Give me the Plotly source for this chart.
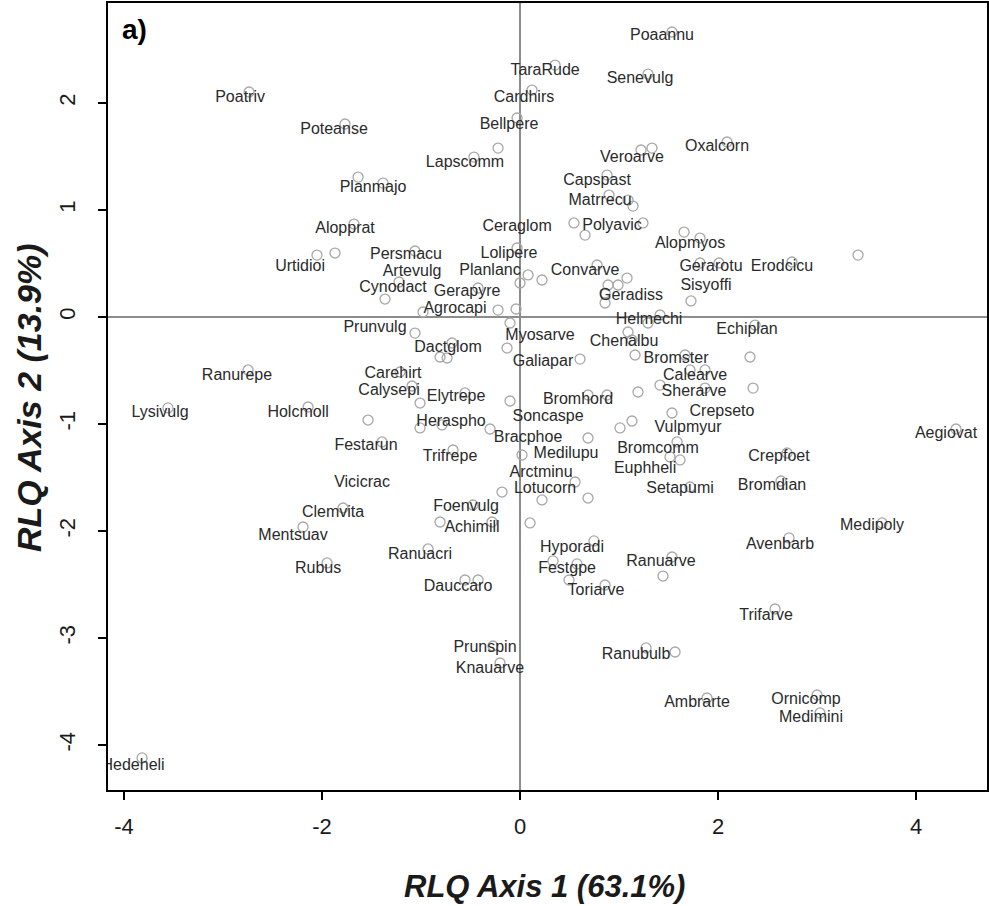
import plotly.graph_objects as go

# Species label positions (RLQ axis 1, RLQ axis 2)
species = ["Poaannu","TaraRude","Senevulg","Poatriv","Cardhirs","Poteanse","Bellpere","Oxalcorn",
           "Veroarve","Lapscomm","Planmajo","Capspast","Matrrecu","Alopprat","Ceraglom","Polyavic",
           "Alopmyos","Persmacu","Urtidioi","Lolipere","Artevulg","Planlanc","Convarve","Gerarotu",
           "Erodcicu","Cynodact","Gerapyre","Sisyoffi","Geradiss","Agrocapi","Prunvulg","Helmechi",
           "Echiplan","Myosarve","Dactglom","Chenalbu","Galiapar","Bromster","Ranurepe","Carehirt",
           "Calysepi","Calearve","Elytrepe","Sherarve","Bromhord","Lysivulg","Holcmoll","Crepseto",
           "Soncaspe","Heraspho","Vulpmyur","Aegiovat","Bracphoe","Medilupu","Bromcomm","Festarun",
           "Trifrepe","Crepfoet","Euphheli","Arctminu","Vicicrac","Lotucorn","Setapumi","Bromdian",
           "Foenvulg","Clemvita","Achimill","Medipoly","Mentsuav","Hyporadi","Avenbarb","Ranuacri",
           "Festgpe","Ranuarve","Rubus","Dauccaro","Toriarve","Trifarve","Prunspin","Ranubulb",
           "Knauarve","Ambrarte","Ornicomp","Medimini","Hedeheli"]
label_x = [1.434,0.253,1.212,-2.828,0.040,-1.879,-0.111,1.990,
           1.131,-0.556,-1.485,0.778,0.808,-1.768,-0.030,0.929,
           1.717,-1.152,-2.222,-0.111,-1.091,-0.303,0.657,1.929,
           2.646,-1.283,-0.535,1.879,1.121,-0.657,-1.465,1.303,
           2.293,0.202,-0.727,1.051,0.232,1.576,-2.859,-1.283,
           -1.323,1.768,-0.646,1.758,0.586,-3.636,-2.242,2.040,
           0.283,-0.697,1.697,4.303,0.081,0.465,1.394,-1.556,
           -0.707,2.616,1.263,0.212,-1.596,0.253,1.616,2.545,
           -0.545,-1.889,-0.485,3.556,-2.293,0.525,2.626,-1.010,
           0.475,1.424,-2.040,-0.626,0.768,2.485,-0.354,1.172,
           -0.303,1.788,2.889,2.939,-3.909]
label_y = [2.626,2.299,2.224,2.047,2.047,1.748,1.794,1.589,
           1.486,1.439,1.206,1.271,1.084,0.822,0.841,0.850,
           0.682,0.579,0.467,0.589,0.421,0.430,0.430,0.467,
           0.467,0.271,0.234,0.290,0.196,0.075,-0.103,-0.028,
           -0.121,-0.178,-0.290,-0.234,-0.421,-0.393,-0.551,-0.533,
           -0.692,-0.551,-0.748,-0.701,-0.776,-0.897,-0.897,-0.888,
           -0.935,-0.981,-1.037,-1.093,-1.131,-1.280,-1.234,-1.206,
           -1.308,-1.308,-1.421,-1.458,-1.551,-1.607,-1.607,-1.579,
           -1.776,-1.832,-1.972,-1.953,-2.047,-2.159,-2.131,-2.224,
           -2.355,-2.290,-2.355,-2.523,-2.561,-2.794,-3.093,-3.159,
           -3.290,-3.607,-3.579,-3.748,-4.196]

# Point scores (open circles)
point_x = [-2.737,-2.051,-1.768,-0.222,-0.465,-1.636,-1.384,-1.677,-1.869,-1.061,-0.030,-0.030,
           1.535,0.354,1.293,0.121,2.091,1.222,1.333,0.879,0.899,1.091,1.141,0.545,0.657,1.242,
           1.657,1.818,1.818,2.010,3.414,2.747,-2.747,-3.556,-2.141,-2.192,-1.222,-1.364,-0.424,
           -0.980,-0.222,-0.040,0.000,-1.061,-0.687,-0.808,-0.737,-0.101,-0.131,-1.212,-1.091,
           -1.010,-0.556,-0.101,-1.535,-1.010,-0.788,-0.303,-1.394,-0.677,0.020,-0.182,-1.788,
           -0.475,0.081,0.222,0.778,0.889,0.990,1.081,1.727,0.859,0.859,1.414,1.293,1.091,1.131,
           1.162,0.606,1.667,1.717,1.869,1.414,1.869,1.192,0.687,0.879,1.535,1.131,1.010,0.687,
           1.586,1.515,1.616,0.556,0.687,0.222,1.717,0.101,2.374,2.323,2.354,4.404,2.697,2.636,
           3.657,-3.818,-0.808,-0.283,-0.929,-1.949,-0.556,-0.424,-0.273,-0.202,0.747,0.333,
           0.576,0.495,0.859,1.535,1.444,1.273,1.566,1.889,2.717,2.576,3.000,3.030]
point_y = [2.103,0.579,1.804,1.579,1.495,1.308,1.252,0.869,0.598,0.617,0.645,1.860,
           2.664,2.355,2.271,2.121,1.636,1.561,1.579,1.327,1.140,1.093,1.037,0.879,0.766,0.879,
           0.794,0.738,0.505,0.505,0.579,0.514,-0.495,-0.850,-0.841,-1.963,0.327,0.168,0.271,
           0.047,0.065,0.075,0.318,-0.150,-0.243,-0.374,-0.383,-0.056,-0.290,-0.514,-0.645,
           -0.804,-0.710,-0.785,-0.963,-1.037,-1.009,-1.047,-1.168,-1.243,-1.290,-1.636,-1.785,
           -1.757,0.393,0.346,0.486,0.299,0.299,0.364,0.150,0.224,0.131,0.019,-0.056,-0.140,-0.215,
           -0.355,-0.393,-0.355,-0.495,-0.495,-0.636,-0.664,-0.701,-0.729,-0.729,-0.897,-0.972,-1.037,-1.131,
           -1.168,-1.308,-1.336,-1.542,-1.692,-1.710,-1.589,-1.925,-0.075,-0.374,-0.664,-1.047,-1.271,-1.533,
           -1.925,-4.121,-1.916,-1.916,-2.168,-2.299,-2.458,-2.458,-3.075,-3.234,-2.093,-2.280,
           -2.308,-2.458,-2.505,-2.243,-2.421,-3.093,-3.131,-3.561,-2.065,-2.729,-3.533,-3.701]

x_ticks = [-4, -2, 0, 2, 4]
x_ticktext = ["-4", "-2", "0", "2", "4"]
y_ticks = [-4, -3, -2, -1, 0, 1, 2]
y_ticktext = ["-4", "-3", "-2", "-1", "0", "1", "2"]
x_title = "RLQ Axis 1 (63.1%)"
y_title = "RLQ Axis 2 (13.9%)"
panel = "a)"

FONT = "Liberation Sans, Arial"

fig = go.Figure()
fig.add_trace(go.Scatter(
    x=point_x, y=point_y, mode="markers",
    marker=dict(symbol="circle-open", size=10, color="#a8a8a8", line=dict(width=1.3)),
    hoverinfo="skip", showlegend=False))
fig.add_trace(go.Scatter(
    x=label_x, y=label_y, mode="text", text=species,
    textfont=dict(family=FONT, size=16, color="#2a2a2a"),
    textposition="middle center", showlegend=False))

axis_common = dict(
    showgrid=False, showline=True, mirror=True, linecolor="black", linewidth=2,
    ticks="outside", ticklen=8, tickwidth=1.5, tickcolor="black",
    tickfont=dict(family=FONT, size=22, color="#1a1a1a"),
    zeroline=True, zerolinecolor="#8c8c8c", zerolinewidth=2, automargin=False)

fig.update_layout(
    width=989, height=906,
    margin=dict(l=108, r=2, t=3, b=116),
    paper_bgcolor="white", plot_bgcolor="white",
    xaxis=dict(range=[-4.162, 4.717], tickvals=x_ticks, ticktext=x_ticktext,
               ticklabelstandoff=8, **axis_common),
    yaxis=dict(range=[-4.421, 2.935], tickvals=y_ticks, ticktext=y_ticktext,
               tickangle=-90, ticklabelstandoff=14, **axis_common),
    annotations=[
        dict(text="<b><i>" + x_title + "</i></b>", xref="paper", yref="paper",
             x=0.497, y=-0.122, xanchor="center", yanchor="middle", showarrow=False,
             font=dict(family=FONT, size=31, color="#1a1a1a")),
        dict(text="<b><i>" + y_title + "</i></b>", xref="paper", yref="paper",
             x=-0.089, y=0.499, xanchor="center", yanchor="middle", showarrow=False,
             textangle=-90,
             font=dict(family=FONT, size=34, color="#1a1a1a")),
        dict(text="<b>" + panel + "</b>", xref="paper", yref="paper",
             x=0.0296, y=0.966, xanchor="center", yanchor="middle", showarrow=False,
             font=dict(family=FONT, size=28, color="black")),
    ],
)

fig.write_html("out.html", config={"displayModeBar": False},
               post_script="document.body.style.margin='0px';document.body.style.overflow='hidden';")
